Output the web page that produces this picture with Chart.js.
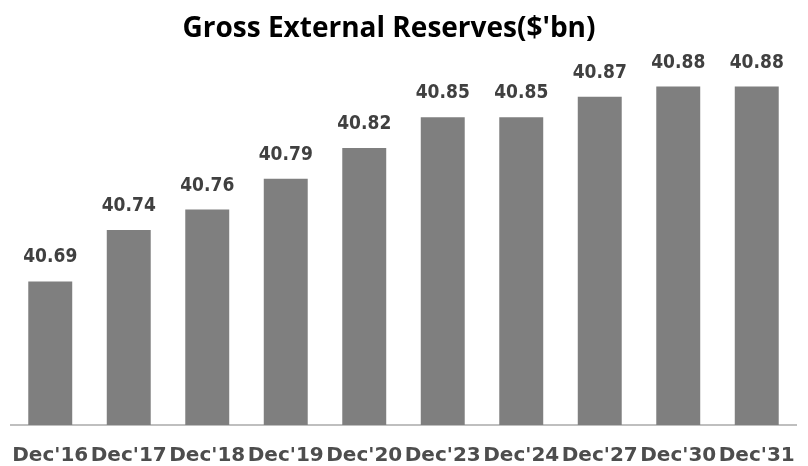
<!DOCTYPE html>
<html>
<head>
<meta charset="utf-8">
<script src="https://cdn.jsdelivr.net/npm/chart.js@4.4.1/dist/chart.umd.min.js"></script>
<style>
  html, body { margin: 0; padding: 0; background: #ffffff; }
  #wrap { width: 808px; height: 466px; position: relative; }
</style>
</head>
<body>
<div id="wrap"><canvas id="chart"></canvas></div>
<script>
// Gross external reserves, $ billions
const chartTitle = "Gross External Reserves($'bn)";
const categories = ["Dec'16", "Dec'17", "Dec'18", "Dec'19", "Dec'20", "Dec'23", "Dec'24", "Dec'27", "Dec'30", "Dec'31"];
const reserves = [40.69, 40.74, 40.76, 40.79, 40.82, 40.85, 40.85, 40.87, 40.88, 40.88];

// Title and value labels drawn on top of the bars
const annotate = {
  id: 'annotate',
  afterDatasetsDraw(chart) {
    const ctx = chart.ctx;
    ctx.save();
    ctx.fillStyle = '#000000';
    ctx.font = "bold 28px 'Open Sans', 'Liberation Sans', sans-serif";
    ctx.textAlign = 'center';
    ctx.textBaseline = 'alphabetic';
    ctx.fillText(chartTitle, 389, 37);

    ctx.fillStyle = '#404040';
    ctx.font = "bold 19px 'DejaVu Sans Condensed', 'DejaVu Sans', sans-serif";
    const meta = chart.getDatasetMeta(0);
    meta.data.forEach((bar, i) => {
      ctx.fillText(reserves[i].toFixed(2), bar.x, bar.y - 19);
    });
    ctx.restore();
  }
};

new Chart(document.getElementById('chart'), {
  type: 'bar',
  data: {
    labels: categories,
    datasets: [{
      data: reserves,
      backgroundColor: '#7f7f7f',
      borderWidth: 0,
      barPercentage: 0.56,
      categoryPercentage: 1.0
    }]
  },
  options: {
    responsive: true,
    maintainAspectRatio: false,
    animation: false,
    layout: { padding: { top: 66, left: 11, right: 12, bottom: 0 } },
    plugins: {
      legend: { display: false },
      title: { display: false },
      tooltip: { enabled: false }
    },
    scales: {
      x: {
        grid: { display: false, drawTicks: false },
        border: { display: true, color: '#bfbfbf', width: 2 },
        ticks: {
          autoSkip: false,
          maxRotation: 0,
          minRotation: 0,
          padding: 19,
          color: '#4d4d4d',
          font: { family: "'DejaVu Sans', sans-serif", size: 20, weight: 'bold' }
        },
        afterFit(scale) {
          // labels sit snugly under each bar; no extra edge padding
          scale.paddingLeft = 0;
          scale.paddingRight = 0;
          scale.height = 41;
        }
      },
      y: {
        display: false,
        min: 40.55,
        max: 40.90
      }
    }
  },
  plugins: [annotate]
});
</script>
</body>
</html>
